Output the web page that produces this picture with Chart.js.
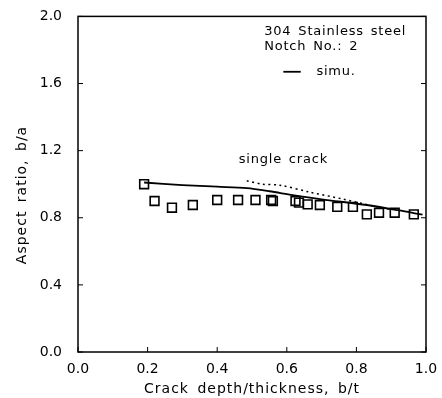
<!DOCTYPE html>
<html>
<head>
<meta charset="utf-8">
<script src="https://cdn.jsdelivr.net/npm/chart.js@4/dist/chart.umd.min.js"></script>
<style>
  html, body { margin: 0; padding: 0; background: #fff; }
  #wrap { width: 442px; height: 398px; }
</style>
</head>
<body>
<div id="wrap"><canvas id="c"></canvas></div>
<script>
// measured points (squares)
const expX = [0.19, 0.22, 0.27, 0.33, 0.40, 0.46, 0.51, 0.555, 0.56, 0.625, 0.635, 0.66, 0.695, 0.745, 0.79, 0.83, 0.865, 0.91, 0.965];
const expY = [1.00, 0.90, 0.86, 0.876, 0.906, 0.906, 0.906, 0.906, 0.90, 0.90, 0.89, 0.88, 0.876, 0.865, 0.865, 0.82, 0.83, 0.83, 0.82];
// simulation (solid)
const simX = [0.19, 0.30, 0.40, 0.485, 0.55, 0.617, 0.70, 0.83, 0.92, 0.99];
const simY = [1.01, 0.995, 0.985, 0.976, 0.958, 0.935, 0.91, 0.876, 0.845, 0.818];
// single crack (dotted)
const singleX = [0.485, 0.53, 0.58, 0.665, 0.76, 0.858, 0.90];
const singleY = [1.02, 1.00, 0.994, 0.953, 0.912, 0.865, 0.85];
const xTicks = [0.0, 0.2, 0.4, 0.6, 0.8, 1.0];
const yTicks = [0.0, 0.4, 0.8, 1.2, 1.6, 2.0];

const FONT = '"DejaVu Sans", Verdana, sans-serif';
const pts = (xs, ys) => xs.map((x, i) => ({ x: x, y: ys[i] }));

const decor = {
  id: 'decor',
  afterDraw(chart) {
    const ctx = chart.ctx, a = chart.chartArea;
    const xs = chart.scales.x, ys = chart.scales.y;
    ctx.save();
    ctx.strokeStyle = '#000';
    ctx.lineWidth = 1.5;
    ctx.strokeRect(a.left, a.top, a.right - a.left, a.bottom - a.top);
    ctx.lineWidth = 1;
    ctx.beginPath();
    xTicks.forEach(v => {
      const px = xs.getPixelForValue(v);
      ctx.moveTo(px, a.bottom); ctx.lineTo(px, a.bottom - 5);
    });
    yTicks.forEach(v => {
      const py = ys.getPixelForValue(v);
      ctx.moveTo(a.left, py); ctx.lineTo(a.left + 5, py);
      ctx.moveTo(a.right, py); ctx.lineTo(a.right - 5, py);
    });
    ctx.stroke();

    ctx.fillStyle = '#000';
    ctx.font = '13px ' + FONT;
    ctx.letterSpacing = '0.8px';
    ctx.wordSpacing = '2px';
    ctx.textBaseline = 'middle';
    ctx.textAlign = 'left';
    ctx.fillText('304 Stainless steel', xs.getPixelForValue(0.535), ys.getPixelForValue(1.91));
    ctx.fillText('Notch No.: 2', xs.getPixelForValue(0.535), ys.getPixelForValue(1.82));
    // legend
    const ly = ys.getPixelForValue(1.67);
    ctx.lineWidth = 1.8;
    ctx.beginPath();
    ctx.moveTo(xs.getPixelForValue(0.59), ly);
    ctx.lineTo(xs.getPixelForValue(0.64), ly);
    ctx.stroke();
    ctx.fillText('simu.', xs.getPixelForValue(0.685), ly);
    ctx.textAlign = 'center';
    ctx.fillText('single crack', xs.getPixelForValue(0.59), ys.getPixelForValue(1.145));

    // axis titles
    ctx.font = '14px ' + FONT;
    ctx.letterSpacing = '1px';
    ctx.wordSpacing = '3px';
    ctx.fillText('Crack depth/thickness, b/t', (a.left + a.right) / 2, 389);
    ctx.translate(22, 195);
    ctx.rotate(-Math.PI / 2);
    ctx.fillText('Aspect ratio, b/a', 0, 0);
    ctx.restore();
  }
};

new Chart(document.getElementById('c').getContext('2d'), {
  type: 'scatter',
  data: {
    datasets: [
      {
        label: 'exp',
        data: pts(expX, expY),
        pointStyle: 'rect',
        pointRadius: 6.2,
        borderColor: '#000',
        backgroundColor: 'rgba(0,0,0,0)',
        borderWidth: 1.6,
        showLine: false
      },
      {
        label: 'simu.',
        data: pts(simX, simY),
        showLine: true,
        borderColor: '#000',
        borderWidth: 1.8,
        pointRadius: 0,
        tension: 0.3
      },
      {
        label: 'single crack',
        data: pts(singleX, singleY),
        showLine: true,
        borderColor: '#000',
        borderWidth: 1.5,
        borderDash: [2, 3.5],
        pointRadius: 0,
        tension: 0.3
      }
    ]
  },
  options: {
    responsive: true,
    maintainAspectRatio: false,
    animation: false,
    layout: { padding: { top: 12, right: 16, left: 0, bottom: 0 } },
    plugins: { legend: { display: false }, tooltip: { enabled: false } },
    scales: {
      x: {
        min: 0, max: 1,
        afterBuildTicks: s => { s.ticks = xTicks.map(v => ({ value: v })); },
        afterFit: s => { s.height = 46; },
        grid: { display: false },
        border: { display: false },
        ticks: { color: '#000', font: { family: FONT, size: 14 }, padding: 1, maxRotation: 0,
                 callback: v => v.toFixed(1) },
        title: { display: false }
      },
      y: {
        min: 0, max: 2,
        afterBuildTicks: s => { s.ticks = yTicks.map(v => ({ value: v })); },
        afterFit: s => { s.width = 78; },
        grid: { display: false },
        border: { display: false },
        ticks: { color: '#000', font: { family: FONT, size: 14 }, padding: 8,
                 callback: v => v.toFixed(1) },
        title: { display: false }
      }
    }
  },
  plugins: [decor]
});
</script>
</body>
</html>
